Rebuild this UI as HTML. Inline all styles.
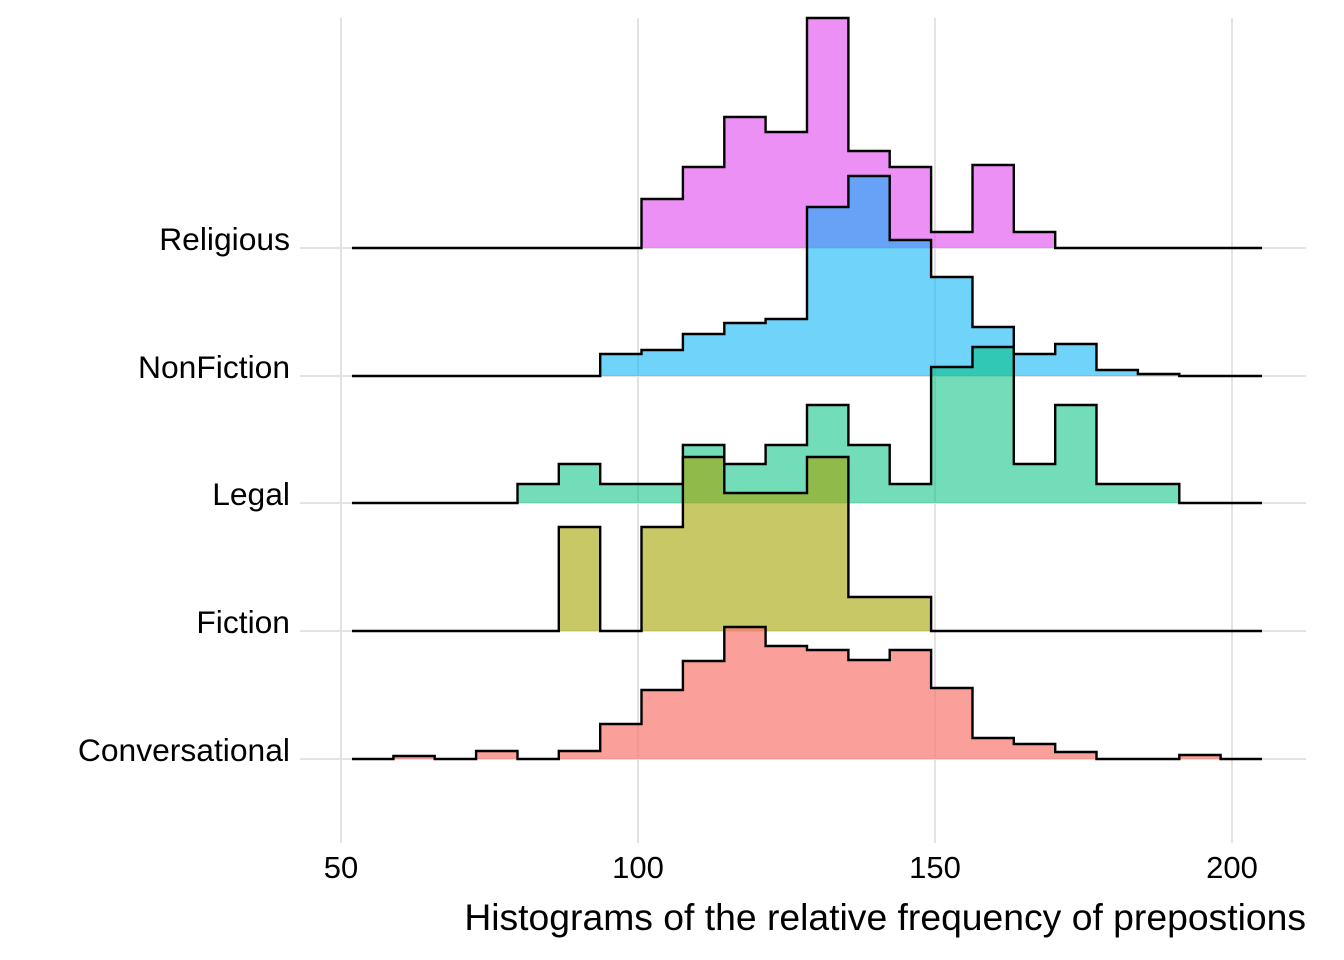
<!DOCTYPE html>
<html><head><meta charset="utf-8"><style>
html,body{margin:0;padding:0;background:#fff;}
svg{display:block;font-family:"Liberation Sans",Arial,sans-serif;}
</style></head><body>
<svg id="s" width="1344" height="960" viewBox="0 0 1344 960" xmlns="http://www.w3.org/2000/svg">
<g stroke="#e3e3e3" stroke-width="2">
<line x1="341" y1="18" x2="341" y2="843"/><line x1="638" y1="18" x2="638" y2="843"/>
<line x1="935" y1="18" x2="935" y2="843"/><line x1="1232" y1="18" x2="1232" y2="843"/>
<line x1="300" y1="248" x2="1306" y2="248"/><line x1="300" y1="376" x2="1306" y2="376"/>
<line x1="300" y1="503" x2="1306" y2="503"/><line x1="300" y1="631" x2="1306" y2="631"/>
<line x1="300" y1="759" x2="1306" y2="759"/>
</g>
<g id="h"></g>
<g font-size="31.8" fill="#000" text-anchor="end">
<text x="290" y="250">Religious</text>
<text x="290" y="378">NonFiction</text>
<text x="290" y="505">Legal</text>
<text x="290" y="633">Fiction</text>
<text x="290" y="761">Conversational</text>
</g>
<g font-size="31" fill="#000" text-anchor="middle">
<text x="341" y="878">50</text><text x="638" y="878">100</text>
<text x="935" y="878">150</text><text x="1232" y="878">200</text>
</g>
<text x="1306" y="930" font-size="37.3" text-anchor="end">Histograms of the relative frequency of prepostions</text>
</svg>
<script>
var series=[
{b:248,c:"#E76BF3",a:0.75,h:[248,248,248,248,248,248,248,199,167,117,132,18,151,167,232,165,232,248,248,248,248,248]},
{b:376,c:"#00B0F6",a:0.56,h:[376,376,376,376,376,376,354,350,334,323,319,207,176,240,277,327,354,344,370,374,376,376]},
{b:503,c:"#00BF7D",a:0.55,h:[503,503,503,503,484,464,484,484,445,464,445,405,445,484,367,347,464,405,484,484,503,503]},
{b:631,c:"#A3A500",a:0.6,h:[631,631,631,631,631,527,631,527,457,493,493,457,597,597,631,631,631,631,631,631,631,631]},
{b:759,c:"#F8766D",a:0.7,h:[759,756,759,751,759,751,724,690,661,627,646,650,660,650,688,738,744,752,759,759,755,759]}
];
var g=document.getElementById("h"),x0=352,w=(1262-352)/22,out="";
series.forEach(function(s){
 var d="M"+x0+","+s.h[0];
 for(var i=0;i<22;i++){var xa=x0+i*w,xb=x0+(i+1)*w;d+=" L"+xa.toFixed(1)+","+s.h[i]+" L"+xb.toFixed(1)+","+s.h[i];}
 var f=d+" L1262,"+s.b+" L352,"+s.b+" Z";
 out+='<path d="'+f+'" fill="'+s.c+'" fill-opacity="'+s.a+'" stroke="none"/>';
 out+='<path d="'+d+'" fill="none" stroke="#000" stroke-width="2.4" stroke-linejoin="miter"/>';
});
g.innerHTML=out;
</script>
</body></html>
